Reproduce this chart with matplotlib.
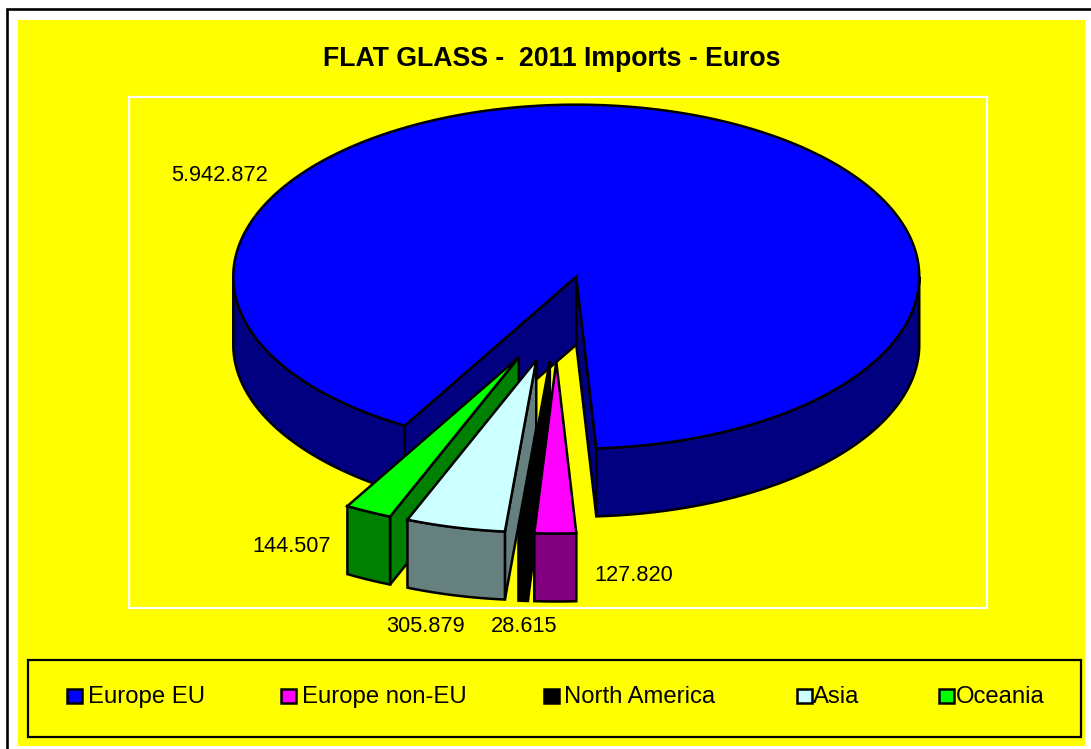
import numpy as np
import matplotlib
matplotlib.use("Agg")
import matplotlib.pyplot as plt
from matplotlib.patches import Polygon, Rectangle

# Flat glass imports for 2011, in euros
categories = ["Europe EU", "Europe non-EU", "North America", "Asia", "Oceania"]
values = [5942872, 127820, 28615, 305879, 144507]
value_labels = ["5.942.872", "127.820", "28.615", "305.879", "144.507"]
top_colors = ["#0000FF", "#FF00FF", "#000000", "#CCFFFF", "#00FF00"]
side_colors = ["#000080", "#800080", "#000000", "#668080", "#008000"]

FIRST_ANGLE = 210.0     # degrees clockwise from 12 o'clock
EXPLODE = 0.25          # slice offset as a share of the radius
CX, CY = 556.5, 318.5   # pie centre in pixels
RX, RY = 343.0, 172.0   # ellipse radii
DEPTH = 68.0            # extrusion height
LW = 1.8

label_xy = [(220, 181), (634, 581), (524, 632), (425, 632), (292, 552)]
legend_swatch_x = [67, 281, 544, 797, 939]
legend_text_x = [88, 302, 564, 813, 956]

plt.rcParams["font.family"] = ["Liberation Sans", "DejaVu Sans"]
fig = plt.figure(figsize=(10.91, 7.49), dpi=100, facecolor="white")
ax = fig.add_axes([0, 0, 1, 1])
ax.set_xlim(0, 1091)
ax.set_ylim(749, 0)
ax.axis("off")


def rim(angles, ox, oy):
    """Points on the pie rim, angles in degrees clockwise from the top."""
    a = np.radians(angles)
    return np.column_stack([ox + RX * np.sin(a), oy - RY * np.cos(a)])


def face(points, color, z):
    ax.add_patch(Polygon(points, closed=True, facecolor=color, edgecolor="black",
                         linewidth=LW, joinstyle="miter", zorder=z))


# Background panels
ax.add_patch(Rectangle((18, 20), 1067, 725.5, facecolor="#FFFF00", edgecolor="none", zorder=1))
ax.plot([7, 7, 1091], [749, 9, 9], color="black", lw=1.9, solid_joinstyle="miter", zorder=2)
ax.add_patch(Rectangle((128.5, 96.5), 858, 511, facecolor="none", edgecolor="white", lw=1.6, zorder=2))

ax.text(552, 66, "FLAT GLASS -  2011 Imports - Euros", ha="center", va="baseline",
        fontsize=19.2, fontweight="bold", color="black", zorder=20)

# Slices, painted back to front: the large slice first, then the rest from left to right
sweeps = 360.0 * np.array(values) / np.sum(values)
ends = FIRST_ANGLE + np.cumsum(sweeps)
starts = ends - sweeps
paint_order = [0, 4, 3, 2, 1]

for step, i in enumerate(paint_order):
    s, e = starts[i], ends[i]
    mid = np.radians((s + e) / 2)
    ox = CX + EXPLODE * RX * np.sin(mid)
    oy = CY - EXPLODE * RY * np.cos(mid)
    z = 5 + step
    apex = np.array([ox, oy])
    shift = np.array([0, DEPTH])

    # radial walls, shown only where they turn toward the viewer
    if np.sin(np.radians(s)) < 0:
        p = rim(np.array([s]), ox, oy)[0]
        face([apex, p, p + shift, apex + shift], side_colors[i], z)
    if np.sin(np.radians(e)) > 0:
        p = rim(np.array([e]), ox, oy)[0]
        face([apex, p, p + shift, apex + shift], side_colors[i], z)

    # front of the cylinder wall
    for lo, hi in [(90, 270), (450, 630)]:
        a0, a1 = max(s, lo), min(e, hi)
        if a1 > a0:
            arc = rim(np.linspace(a0, a1, 200), ox, oy)
            face(np.vstack([arc, (arc + shift)[::-1]]), side_colors[i], z)

    # top surface
    arc = rim(np.linspace(s, e, 600), ox, oy)
    face(np.vstack([apex, arc]), top_colors[i], z + 0.5)

# Value labels
for text, (x, y) in zip(value_labels, label_xy):
    ax.text(x, y, text, ha="center", va="baseline", fontsize=15.7, color="black", zorder=20)

# Legend box
ax.add_patch(Rectangle((28, 659.5), 1053, 77.5, facecolor="none", edgecolor="black", lw=1.6, zorder=3))
for name, color, sx, tx in zip(categories, top_colors, legend_swatch_x, legend_text_x):
    ax.add_patch(Rectangle((sx, 688.5), 14.5, 14.5, facecolor=color, edgecolor="black", lw=1.8, zorder=4))
    ax.text(tx, 703, name, ha="left", va="baseline", fontsize=17.2, color="black", zorder=20)

fig.savefig("out.png", dpi=100, facecolor="white")
